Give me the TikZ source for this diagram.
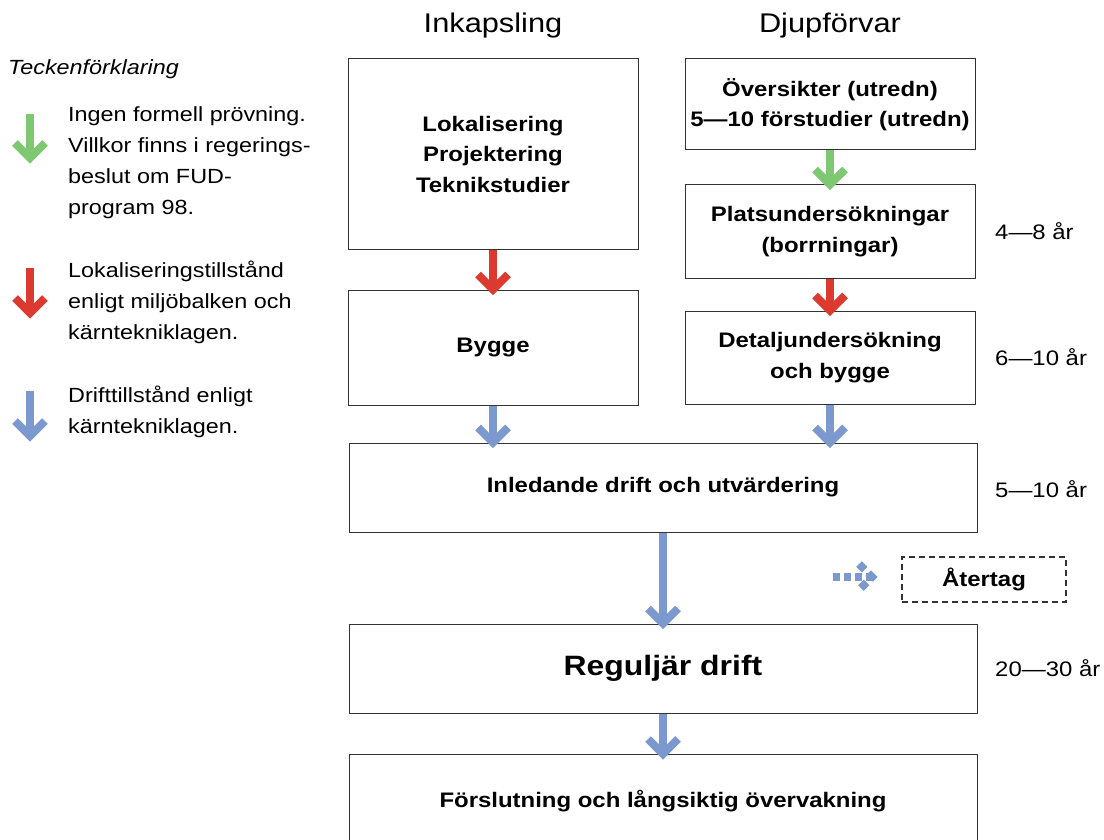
\documentclass[tikz,border=0pt]{standalone}
\usepackage{fontspec}
\setmainfont{Liberation Sans}[FakeStretch=1.14]
\usetikzlibrary{arrows.meta,decorations.markings}
\definecolor{cgreen}{HTML}{7DC870}
\definecolor{cred}{HTML}{DC3A2F}
\definecolor{cblue}{HTML}{7B98CF}
\tikzset{
  box/.style={draw=black!80, line width=1pt, inner sep=0pt, align=center, font=\fontsize{21}{30.5}\selectfont\bfseries},
  flow/.style={line width=8pt, postaction={decorate}, decoration={markings, mark=at position 1 with {\draw[line width=8pt, line join=miter, solid] (-15pt,15pt) -- (0pt,0pt) -- (-15pt,-15pt);}}},
  dflow/.style={line width=8pt, dash pattern=on 7pt off 4pt, postaction={decorate}, decoration={markings, mark=at position 1 with {\draw[line width=8pt, line join=miter, dash pattern=on 8pt off 5pt] (-13pt,13pt) -- (0pt,0pt) -- (-13pt,-13pt);}}},
  lab/.style={font=\fontsize{21}{26}\selectfont, anchor=west, inner sep=0pt},
  leg/.style={font=\fontsize{20.5}{31}\selectfont, anchor=north west, align=left, inner sep=0pt},
  head/.style={font=\fontsize{27}{30}\selectfont, inner sep=0pt}
}
\begin{document}
\begin{tikzpicture}[x=1pt,y=-1pt]
\useasboundingbox (0,0) rectangle (1104,840);
% headings
\node[head] (h1) at (493,26) {Inkapsling};
\node[head] (h2) at (830,26) {Djupförvar};
% boxes
\node[box, minimum width=290pt, minimum height=190pt] (lok) at (493,154) {Lokalisering\\Projektering\\Teknikstudier};
\node[box, minimum width=290pt, minimum height=115pt] (byg) at (493,347.5) {Bygge};
\node[box, minimum width=290pt, minimum height=91pt] (ovs) at (830,104.5) {Översikter (utredn)\\5---10 förstudier (utredn)};
\node[box, minimum width=290pt, minimum height=93pt] (pla) at (830,231.5) {Platsundersökningar\\(borrningar)};
\node[box, minimum width=290pt, minimum height=93pt] (det) at (830,357.5) {Detaljundersökning\\och bygge};
\node[box, minimum width=628pt, minimum height=89pt] (inl) at (663,487.5) {Inledande drift och utvärdering};
\node[box, minimum width=628pt, minimum height=89pt, font=\fontsize{28}{32}\selectfont\bfseries] (reg) at (663,668.5) {Reguljär drift};
\draw[draw=black!80, line width=1pt] (349,850) |- (977,754) -- (977,850);
\node[font=\fontsize{21}{26}\selectfont\bfseries, inner sep=0pt] (for) at (663,801) {Förslutning och långsiktig övervakning};
\node[box, dashed, line width=1.3pt, dash pattern=on 6pt off 4pt, minimum width=164pt, minimum height=45pt] (ate) at (984,579.5) {Återtag};
\coordinate (ds) at (833,577);
\coordinate (de) at (872,577);
% arrows
\draw[flow, cred] (lok.south) -- ([yshift=0pt]byg.north);
\draw[flow, cgreen] (ovs.south) -- ([yshift=0pt]pla.north);
\draw[flow, cred] (pla.south) -- ([yshift=0pt]det.north);
\draw[flow, cblue] (byg.south) -- ([yshift=0pt]byg.south |- inl.north);
\draw[flow, cblue] (det.south) -- ([yshift=0pt]det.south |- inl.north);
\draw[flow, cblue] (inl.south) -- ([yshift=0pt]reg.north);
\coordinate (fn) at (663,754);
\draw[flow, cblue] (reg.south) -- ([yshift=0pt]fn);
\draw[dflow, cblue] (ds) -- (de);
% right labels
\node[lab] (l1) at (995,231) {4---8 år};
\node[lab] (l2) at (995,357) {6---10 år};
\node[lab] (l3) at (995,489) {5---10 år};
\node[lab] (l4) at (995,668) {20---30 år};
% legend
\node[font=\fontsize{20.5}{26}\selectfont\itshape, anchor=west, inner sep=0pt] (tf) at (8,69) {Teckenförklaring};
\coordinate (g1) at (30,114); \coordinate (g2) at (30,158);
\coordinate (r1) at (30,268); \coordinate (r2) at (30,313);
\coordinate (b1) at (30,391); \coordinate (b2) at (30,436);
\draw[flow, cgreen] (g1) -- (g2);
\draw[flow, cred] (r1) -- (r2);
\draw[flow, cblue] (b1) -- (b2);
\node[leg] (t1) at (68,106) {Ingen formell prövning.\\Villkor finns i regerings-\\beslut om FUD-\\program 98.};
\node[leg] (t2) at (68,261) {Lokaliseringstillstånd\\enligt miljöbalken och\\kärntekniklagen.};
\node[leg] (t3) at (68,386) {Drifttillstånd enligt\\kärntekniklagen.};
\end{tikzpicture}
\end{document}
